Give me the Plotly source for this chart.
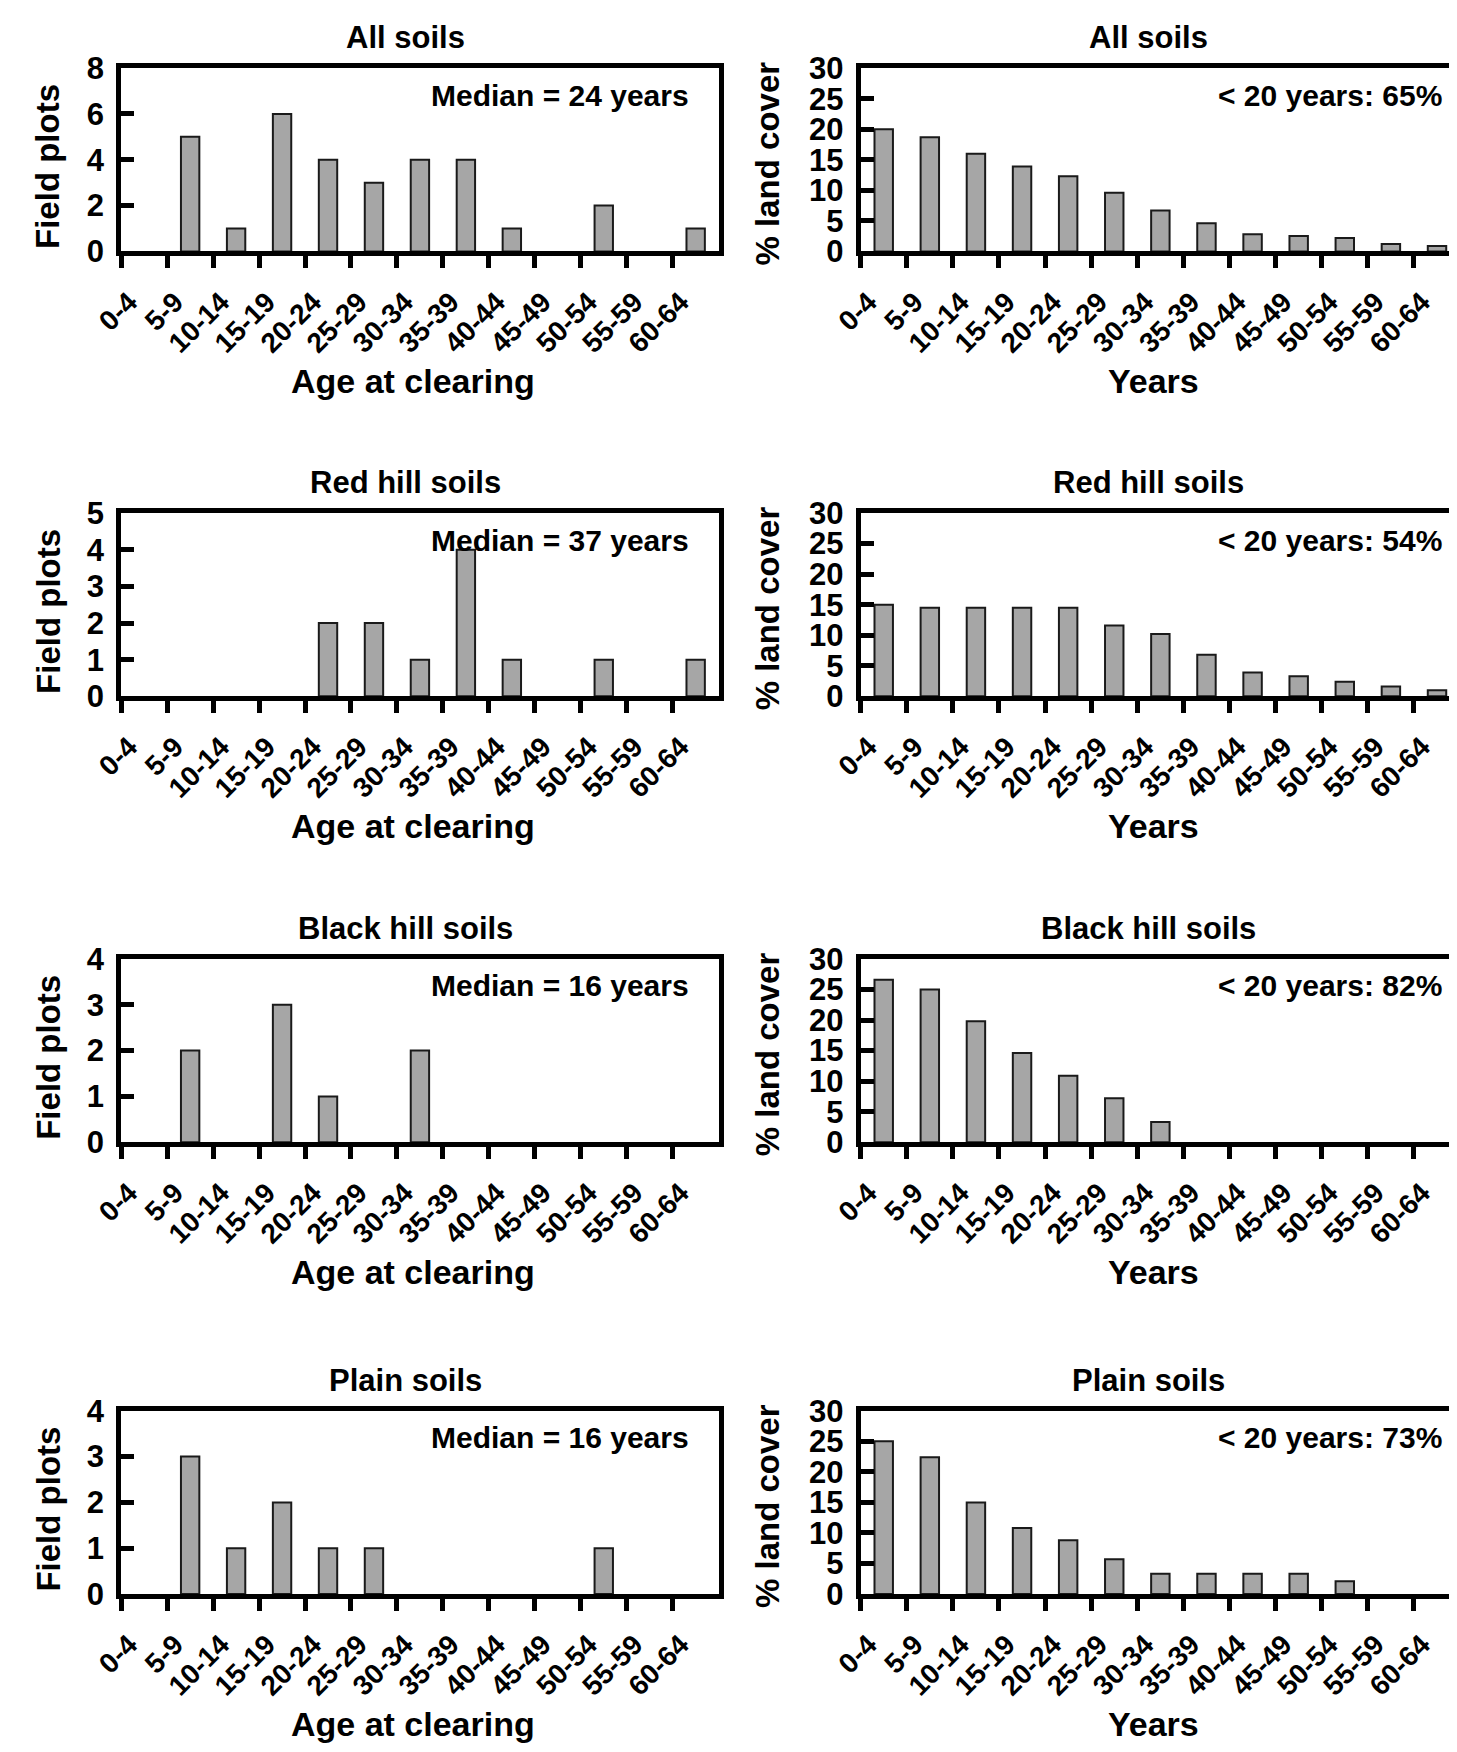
import plotly.graph_objects as go

# Age classes (5-year bins) shared by all panels
age_bins = ["0-4", "5-9", "10-14", "15-19", "20-24", "25-29", "30-34",
            "35-39", "40-44", "45-49", "50-54", "55-59", "60-64"]

soil_titles = ["All soils", "Red hill soils", "Black hill soils", "Plain soils"]

# Left column: number of field plots by age at clearing
plots_all = [0, 5, 1, 6, 4, 3, 4, 4, 1, 0, 2, 0, 1]
plots_red = [0, 0, 0, 0, 2, 2, 1, 4, 1, 0, 1, 0, 1]
plots_black = [0, 2, 0, 3, 1, 0, 2, 0, 0, 0, 0, 0, 0]
plots_plain = [0, 3, 1, 2, 1, 1, 0, 0, 0, 0, 1, 0, 0]
plots_ymax = [8, 5, 4, 4]
plots_dtick = [2, 1, 1, 1]
medians = [24, 37, 16, 16]

# Right column: % land cover by fallow age
cover_all = [20.0, 18.7, 16.0, 13.9, 12.3, 9.6, 6.7, 4.6, 2.8, 2.5, 2.2, 1.2, 0.9]
cover_red = [15.0, 14.5, 14.5, 14.5, 14.5, 11.6, 10.2, 6.8, 3.9, 3.3, 2.4, 1.6, 1.0]
cover_black = [26.6, 25.0, 19.8, 14.6, 10.9, 7.2, 3.3, 0, 0, 0, 0, 0, 0]
cover_plain = [25.0, 22.4, 15.0, 10.8, 8.8, 5.7, 3.3, 3.3, 3.3, 3.3, 2.1, 0, 0]
under20 = [65, 54, 82, 73]

plots = [plots_all, plots_red, plots_black, plots_plain]
covers = [cover_all, cover_red, cover_black, cover_plain]

W, H = 1457, 1752
FONT = "Liberation Sans, Arial, sans-serif"
col_px = [(87, 697), (842, 1454)]
row_bottom_px = [231, 685, 1140, 1601]
row_h = 187

bar_x = [i + 0.5 for i in range(len(age_bins))]

fig = go.Figure()
annotations = []
n = 0
for r in range(4):
    for c in range(2):
        n += 1
        xa = "x" if n == 1 else f"x{n}"
        ya = "y" if n == 1 else f"y{n}"
        x0, x1 = col_px[c]
        yb = row_bottom_px[r]
        ydom = [1 - yb / H, 1 - (yb - row_h) / H]
        xdom = [x0 / W, x1 / W]
        vals = plots[r] if c == 0 else covers[r]

        fig.add_trace(go.Bar(
            x=bar_x, y=vals, width=0.4,
            marker=dict(color="#a6a6a6",
                        line=dict(color="#1a1a1a",
                                  width=[2 if v > 0 else 0 for v in vals])),
            xaxis=xa, yaxis=ya, hoverinfo="skip"))

        xkey = "xaxis" if n == 1 else f"xaxis{n}"
        ykey = "yaxis" if n == 1 else f"yaxis{n}"
        fig.layout[xkey] = dict(
            domain=xdom, anchor=ya, range=[0, len(age_bins)],
            tickmode="array", tickvals=list(range(len(age_bins))), ticktext=age_bins,
            tickangle=-45, ticks="outside", ticklen=12, tickwidth=5, tickcolor="black",
            ticklabelstandoff=6, ticklabelshift=8,
            showline=True, linewidth=5, linecolor="black", mirror=True,
            showgrid=False, zeroline=False,
            tickfont=dict(family=FONT, size=28, color="black", weight="bold"))
        if c == 0:
            yr, dt = [0, plots_ymax[r]], plots_dtick[r]
        else:
            yr, dt = [0, 30], 5
        fig.layout[ykey] = dict(
            domain=ydom, anchor=xa, range=yr, dtick=dt, tick0=0,
            ticks="inside", ticklen=13, tickwidth=5, tickcolor="black",
            ticklabelstandoff=6,
            showline=True, linewidth=5, linecolor="black", mirror=True,
            showgrid=False, zeroline=False,
            tickfont=dict(family=FONT, size=31, color="black", weight="bold"))

        # panel title
        annotations.append(dict(
            text=soil_titles[r], xref="paper", yref="paper",
            x=(xdom[0] + xdom[1]) / 2, y=ydom[1], xshift=-14 if c == 0 else -12,
            yshift=11, xanchor="center", yanchor="bottom", showarrow=False,
            font=dict(family=FONT, size=31, color="black", weight="bold")))
        # inset statistic
        if c == 0:
            label = f"Median = {medians[r]} years"
            xs = -28
        else:
            label = f"&lt; 20 years: {under20[r]}%"
            xs = -16
        annotations.append(dict(
            text=label, xref="paper", yref="paper",
            x=xdom[1], y=ydom[1], xshift=xs, yshift=-27,
            xanchor="right", yanchor="middle", showarrow=False,
            font=dict(family=FONT, size=30, color="black", weight="bold")))
        # axis titles
        annotations.append(dict(
            text="Age at clearing" if c == 0 else "Years",
            xref="paper", yref="paper",
            x=(xdom[0] + xdom[1]) / 2, y=ydom[0], xshift=-7,
            yshift=-130, xanchor="center", yanchor="middle", showarrow=False,
            font=dict(family=FONT, size=34, color="black", weight="bold")))
        annotations.append(dict(
            text="Field plots" if c == 0 else "% land cover",
            xref="paper", yref="paper", textangle=-90,
            x=xdom[0], y=(ydom[0] + ydom[1]) / 2,
            xshift=-73 if c == 0 else -93, yshift=-7 if c == 0 else -4,
            xanchor="center", yanchor="middle", showarrow=False,
            font=dict(family=FONT, size=33, color="black", weight="bold")))

fig.update_layout(
    width=W, height=H,
    margin=dict(l=0, r=0, t=0, b=0),
    plot_bgcolor="white", paper_bgcolor="white",
    showlegend=False,
    annotations=annotations)

fig.write_html("out.html")
